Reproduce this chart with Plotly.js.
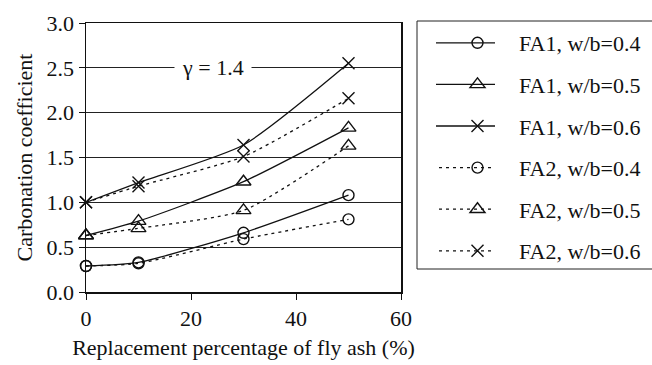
<!DOCTYPE html>
<html>
<head>
<meta charset="utf-8">
<script src="https://cdn.plot.ly/plotly-3.0.1.min.js"></script>
<style>body{margin:0;background:#fff}#chart{width:652px;height:365px}</style>
</head>
<body>
<div id="chart"></div>
<script>
var replacement = [0, 10, 30, 50];
var fa1_wb04 = [0.29, 0.33, 0.66, 1.08];
var fa1_wb05 = [0.63, 0.79, 1.23, 1.83];
var fa1_wb06 = [1.00, 1.22, 1.64, 2.55];
var fa2_wb04 = [0.29, 0.32, 0.59, 0.81];
var fa2_wb05 = [0.63, 0.71, 0.91, 1.63];
var fa2_wb06 = [1.00, 1.18, 1.51, 2.16];
var seriesNames = ["FA1, w/b=0.4", "FA1, w/b=0.5", "FA1, w/b=0.6", "FA2, w/b=0.4", "FA2, w/b=0.5", "FA2, w/b=0.6"];
var xTicks = [0, 20, 40, 60];
var yTicks = [0.0, 0.5, 1.0, 1.5, 2.0, 2.5, 3.0];
var yTickText = ["0.0", "0.5", "1.0", "1.5", "2.0", "2.5", "3.0"];
var annoText = "γ = 1.4";

var font = "'Liberation Serif', 'Times New Roman', serif";
var values = [fa1_wb04, fa1_wb05, fa1_wb06, fa2_wb04, fa2_wb05, fa2_wb06];
var symbols = ["circle-open", "triangle-up-open", "x-thin-open", "circle-open", "triangle-up-open", "x-thin-open"];
var sizes = [11, 13, 12, 11, 13, 12];
var traces = values.map(function (v, i) {
  return {
    x: replacement, y: v, name: seriesNames[i], type: "scatter", mode: "lines+markers",
    legendgroup: "g" + i,
    line: {color: "#111", width: 1.3, shape: "spline", smoothing: 0.6, dash: i < 3 ? "solid" : "3px,4px"},
    marker: {symbol: symbols[i], size: sizes[i], color: "#111", line: {color: "#111", width: 1.4}},
    cliponaxis: false
  };
});

var layout = {
  width: 652, height: 365,
  margin: {l: 86, r: 251, t: 23, b: 73},
  paper_bgcolor: "#fff", plot_bgcolor: "#fff",
  font: {family: font, size: 22, color: "#111"},
  showlegend: true,
  legend: {
    xref: "container", yref: "container", x: 436 / 652, y: 1 - 22 / 365,
    xanchor: "left", yanchor: "top",
    bgcolor: "rgba(0,0,0,0)", borderwidth: 0, maxheight: 360,
    font: {family: font, size: 22, color: "#111"},
    tracegroupgap: 10, itemwidth: 73
  },
  xaxis: {
    range: [0, 60], tickvals: xTicks, ticks: "outside", ticklen: 6, tickcolor: "#111",
    showgrid: false, zeroline: false, showline: true, linecolor: "#111", linewidth: 1.5, mirror: true,
    tickfont: {family: font, size: 22, color: "#111"},
    title: {text: "Replacement percentage of fly ash (%)", font: {family: font, size: 22, color: "#111"}, standoff: 9}
  },
  yaxis: {
    range: [0, 3], tickvals: yTicks, ticktext: yTickText, ticks: "outside", ticklen: 6, tickcolor: "#111",
    showgrid: true, gridcolor: "#222", gridwidth: 1, zeroline: false,
    showline: true, linecolor: "#111", linewidth: 1.5, mirror: true,
    tickfont: {family: font, size: 22, color: "#111"},
    title: {text: "Carbonation coefficient", font: {family: font, size: 22, color: "#111"}, standoff: 8}
  },
  shapes: [{
    type: "rect", xref: "paper", yref: "paper",
    x0: (417 - 86) / 315, x1: (660 - 86) / 315,
    y0: (292 - 269) / 269, y1: (292 - 21) / 269,
    line: {color: "#222", width: 1}, fillcolor: "rgba(0,0,0,0)", layer: "above"
  }],
  annotations: [{
    x: 24.2, y: 2.5, xref: "x", yref: "y", text: annoText, showarrow: false,
    bgcolor: "#fff", font: {family: font, size: 22, color: "#111"}, borderpad: 7
  }]
};

Plotly.newPlot("chart", traces, layout, {displayModeBar: false, staticPlot: true}).then(function (gd) {
  var lines = gd.querySelectorAll(".legend .traces .js-line");
  lines.forEach(function (p) { p.setAttribute("d", "M-18,0h77"); });
});
</script>
</body>
</html>
